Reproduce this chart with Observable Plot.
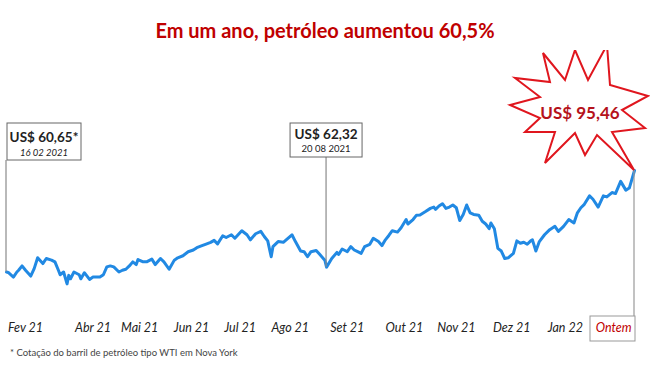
<!DOCTYPE html>
<html>
<head>
<meta charset="utf-8">
<script src="https://cdn.jsdelivr.net/npm/d3@7"></script>
<script src="https://cdn.jsdelivr.net/npm/@observablehq/plot@0.6"></script>
<style>
  body { margin: 0; background: #fff; font-family: Lato, "Open Sans", sans-serif; }
  #title { height: 50px; line-height: 60px; text-align: center; font-weight: bold; font-size: 20px; color: #c00000; white-space: nowrap; }
  #note { height: 20px; line-height: 16px; font-size: 9.5px; color: #444; padding-left: 10px; }
  svg { display: block; }
</style>
</head>
<body>
<div id="title">Em um ano, petróleo aumentou 60,5%</div>
<div id="chart"></div>
<div id="note">* Cotação do barril de petróleo tipo WTI em Nova York</div>
<script>
// ---- data (WTI, US$ per barrel) ----
const dates = [
"2021-02-16","2021-02-17","2021-02-20","2021-02-22","2021-02-23","2021-02-25","2021-02-27","2021-03-02","2021-03-04","2021-03-06",
"2021-03-09","2021-03-11","2021-03-14","2021-03-16","2021-03-18","2021-03-19","2021-03-21","2021-03-23","2021-03-24","2021-03-25",
"2021-03-27","2021-03-30","2021-03-31","2021-04-02","2021-04-05","2021-04-07","2021-04-11","2021-04-13","2021-04-15","2021-04-17",
"2021-04-19","2021-04-22","2021-04-24","2021-04-26","2021-04-28","2021-04-30","2021-05-02","2021-05-03","2021-05-06","2021-05-08",
"2021-05-11","2021-05-13","2021-05-16","2021-05-18","2021-05-21","2021-05-24","2021-05-26","2021-05-29","2021-06-01","2021-06-04",
"2021-06-06","2021-06-09","2021-06-11","2021-06-14","2021-06-16","2021-06-18","2021-06-21","2021-06-23","2021-06-26","2021-06-28",
"2021-07-02","2021-07-05","2021-07-07","2021-07-10","2021-07-13","2021-07-15","2021-07-17","2021-07-19","2021-07-20","2021-07-23",
"2021-07-26","2021-07-31","2021-08-02","2021-08-05","2021-08-07","2021-08-09","2021-08-11","2021-08-14","2021-08-16","2021-08-19",
"2021-08-20","2021-08-23","2021-08-26","2021-08-27","2021-08-29","2021-09-01","2021-09-03","2021-09-05","2021-09-07","2021-09-09",
"2021-09-11","2021-09-14","2021-09-16","2021-09-19","2021-09-21","2021-09-23","2021-09-25","2021-09-27","2021-09-30","2021-10-02",
"2021-10-05","2021-10-06","2021-10-09","2021-10-11","2021-10-13","2021-10-16","2021-10-19","2021-10-21","2021-10-22","2021-10-24",
"2021-10-26","2021-10-28","2021-10-30","2021-11-01","2021-11-03","2021-11-05","2021-11-07","2021-11-09","2021-11-11","2021-11-13",
"2021-11-16","2021-11-18","2021-11-20","2021-11-22","2021-11-23","2021-11-25","2021-11-27","2021-11-29","2021-12-01","2021-12-03",
"2021-12-06","2021-12-08","2021-12-10","2021-12-12","2021-12-14","2021-12-16","2021-12-17","2021-12-19","2021-12-21","2021-12-24",
"2021-12-27","2021-12-30","2022-01-01","2022-01-04","2022-01-07","2022-01-10","2022-01-12","2022-01-14","2022-01-16","2022-01-19",
"2022-01-21","2022-01-24","2022-01-27","2022-01-29","2022-02-01","2022-02-03","2022-02-06","2022-02-09","2022-02-11","2022-02-14"
];
const prices = [
60.65,60.5,58.9,60.65,61.24,62.74,61.24,59.26,61.8,65.52,
63.54,65.28,64.72,64.13,61.24,59.71,60.65,56.58,59.5,58.32,
60.65,59.71,58.32,60.41,58.11,58.91,58.91,59.71,62.39,62.74,
62.39,60.65,61.24,61.59,62.74,64.13,63.19,64.93,64.13,64.13,
65.07,63.19,65.28,64.13,61.59,64.72,65.52,66.22,67.61,68.2,
69.0,69.7,70.15,70.81,71.5,70.29,73.07,72.48,73.42,72.24,
74.81,73.42,71.68,73.77,74.57,72.83,71.33,65.87,69.35,71.09,
70.85,73.42,71.09,67.85,67.61,65.87,67.61,68.0,66.7,64.72,
62.32,65.28,67.37,66.67,68.55,67.61,69.35,68.2,67.61,67.02,
69.35,70.15,72.24,71.09,69.7,71.68,73.18,74.81,74.33,75.72,
78.64,77.11,78.64,80.14,80.2,81.3,82.47,82.93,82.12,83.27,
84.07,82.47,82.92,83.62,82.68,78.29,80.38,83.62,80.94,80.38,
80.14,78.05,77.11,75.51,77.46,75.51,68.76,67.85,65.28,65.52,
67.02,71.33,70.5,70.85,70.15,71.33,71.68,67.85,71.09,73.42,
75.16,76.31,74.57,76.31,78.64,77.46,80.94,82.68,83.86,86.75,
85.6,82.92,86.75,86.4,87.9,87.55,91.73,88.73,89.43,95.46
];
const tickDates = ["2021-02-27","2021-04-07","2021-05-04","2021-06-03","2021-07-01","2021-07-30","2021-09-01","2021-10-04","2021-11-03","2021-12-05","2022-01-05","2022-02-02"];
const tickLabels = ["Fev 21","Abr 21","Mai 21","Jun 21","Jul 21","Ago 21","Set 21","Out 21","Nov 21","Dez 21","Jan 22","Ontem"];
const noteDates = ["2021-02-16","2021-08-20"];
const noteValues = ["US$ 60,65*","US$ 62,32"];
const noteSubs = ["16 02 2021","20 08 2021"];
const peakLabel = "US$ 95,46";
// starburst outline, offsets from last point (shape only)
const starDx = [-91,-69,-59,-46,-27,-24,14,-12,11,-22,0,-37,-49,-59,-89,-79,-109,-94,-124,-94,-119,-84];
const starDy = [-117,-90,-120,-90,-125,-85,-74,-60,-42,-38,0,-35,-15,-37,-7,-38,-38,-52,-65,-73,-92,-88];

const parse = d3.utcParse("%Y-%m-%d");
const data = dates.map((d, i) => ({date: parse(d), price: prices[i]}));
const ticks = tickDates.map((d, i) => ({date: parse(d), label: tickLabels[i]}));
const red = "#c00000";

const plot = Plot.plot({
  width: 650,
  height: 295,
  margin: 0,
  style: {fontFamily: "Lato, sans-serif", background: "white"},
  x: {type: "utc", domain: [data[0].date, data[data.length - 1].date], range: [6, 634], axis: null},
  y: {domain: [60.65, 95.46], range: [221.5, 120], axis: null},
  marks: [
    Plot.line(data, {x: "date", y: "price", stroke: "#2189e3", strokeWidth: 3, strokeLinejoin: "round"}),
    Plot.text(ticks, {x: "date", text: "label", frameAnchor: "bottom", dy: -18, lineAnchor: "middle",
      fontSize: 12.5, fontStyle: "italic",
      fill: d => d.label === "Ontem" ? red : "#222",
      fontWeight: d => d.label === "Ontem" ? "bold" : "normal"})
  ]
});
document.getElementById("chart").appendChild(plot);

const sx = plot.scale("x"), sy = plot.scale("y");
const svg = d3.select(plot);
const g = svg.append("g");
const last = data[data.length - 1];
const lx = sx.apply(last.date), ly = sy.apply(last.price);

// "Ontem" box and leader line
g.append("line").attr("x1", lx).attr("x2", lx).attr("y1", ly).attr("y2", 266)
  .attr("stroke", "#999").attr("stroke-width", 1.2);
g.append("rect").attr("x", lx - 44).attr("y", 266).attr("width", 45).attr("height", 25)
  .attr("fill", "none").attr("stroke", "#999").attr("stroke-width", 1);

// starburst
const starPts = starDx.map((dx, i) => [lx + dx, ly + starDy[i]]);
g.append("path").attr("d", "M" + starPts.map(p => p.join(",")).join("L") + "Z")
  .attr("fill", "white").attr("stroke", "#e0161e").attr("stroke-width", 2).attr("stroke-linejoin", "miter");
g.append("text").attr("x", lx - 54).attr("y", ly - 58).attr("text-anchor", "middle").attr("dominant-baseline", "central")
  .attr("font-family", "Lato, sans-serif").attr("font-weight", "bold").attr("font-size", 17).attr("fill", "#b5121b")
  .text(peakLabel);

// callout boxes
noteDates.forEach((ds, i) => {
  const d = parse(ds);
  const p = data.find(e => +e.date === +d);
  const x = sx.apply(d), y = sy.apply(p.price);
  const w = i === 0 ? 74 : 72, h = i === 0 ? 37 : 34;
  const bx = i === 0 ? x + 1 : x - w / 2;
  g.append("line").attr("x1", x).attr("x2", x).attr("y1", 73 + h).attr("y2", y)
    .attr("stroke", "#8a8a8a").attr("stroke-width", 1.2);
  g.append("rect").attr("x", bx).attr("y", 73).attr("width", w).attr("height", h)
    .attr("fill", "white").attr("stroke", "#666").attr("stroke-width", 1);
  g.append("text").attr("x", bx + w / 2).attr("y", 73 + (i === 0 ? 14 : 11)).attr("text-anchor", "middle")
    .attr("dominant-baseline", "central").attr("font-family", "Lato, sans-serif").attr("font-weight", "bold")
    .attr("font-size", 13.5).attr("fill", "#222").text(noteValues[i]);
  g.append("text").attr("x", bx + w / 2).attr("y", 73 + (i === 0 ? 29 : 25)).attr("text-anchor", "middle")
    .attr("dominant-baseline", "central").attr("font-family", "Lato, sans-serif")
    .attr("font-style", i === 0 ? "italic" : "normal")
    .attr("font-size", 9.5).attr("fill", "#222").text(noteSubs[i]);
});
</script>
</body>
</html>
